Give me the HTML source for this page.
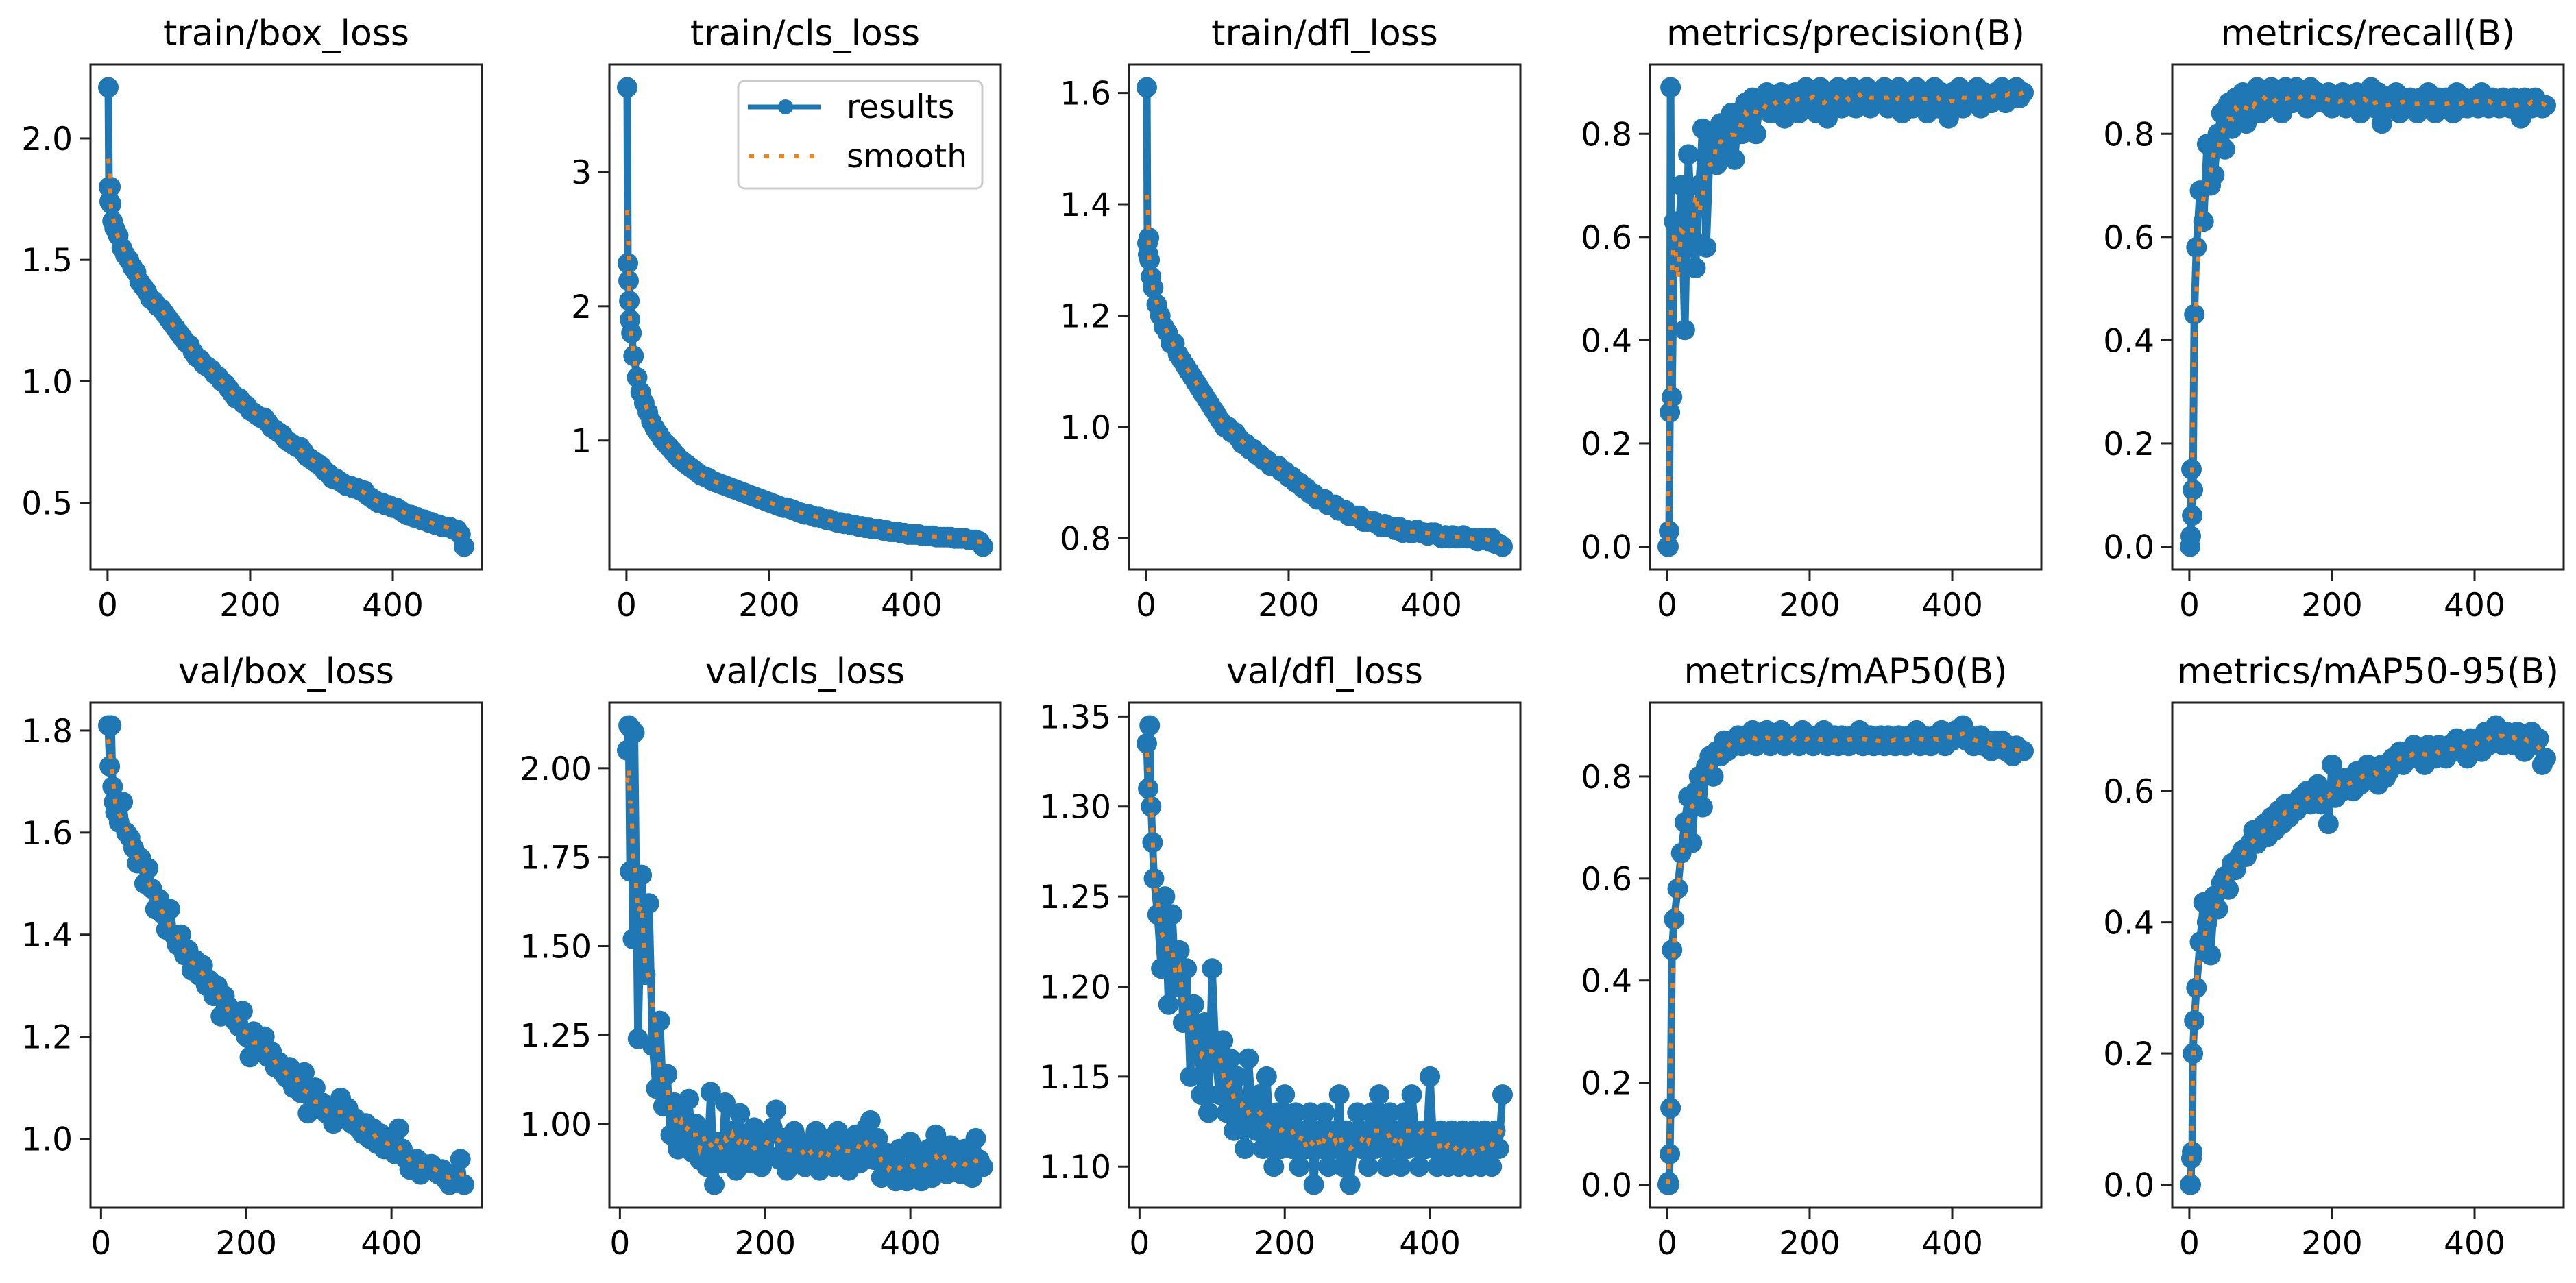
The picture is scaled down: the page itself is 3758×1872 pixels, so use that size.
<!DOCTYPE html>
<html><head><meta charset="utf-8"><title>Training results</title>
<style>html,body{margin:0;padding:0;background:#fff}svg{display:block}text{font-family:"DejaVu Sans","Liberation Sans",sans-serif;fill:#000}</style>
</head><body>
<svg id="fig" width="3758" height="1872" viewBox="0 0 3758 1872" xmlns="http://www.w3.org/2000/svg"></svg>
<script>
const E=[1,2,3,4,5,7,10,15,20,25,30,35,40,45,50,55,60,65,70,75,80,85,90,95,100,105,110,115,120,125,130,135,140,145,150,155,160,165,170,175,180,185,190,195,200,205,210,215,220,225,230,235,240,245,250,255,260,265,270,275,280,285,290,295,300,305,310,315,320,325,330,335,340,345,350,355,360,365,370,375,380,385,390,395,400,405,410,415,420,425,430,435,440,445,450,455,460,465,470,475,480,485,490,495,500];
const V=[10,12,14,16,18,20,25,30,35,40,45,50,55,60,65,70,75,80,85,90,95,100,105,110,115,120,125,130,135,140,145,150,155,160,165,170,175,180,185,190,195,200,205,210,215,220,225,230,235,240,245,250,255,260,265,270,275,280,285,290,295,300,305,310,315,320,325,330,335,340,345,350,355,360,365,370,375,380,385,390,395,400,405,410,415,420,425,430,435,440,445,450,455,460,465,470,475,480,485,490,495,500];

const trainBox=[2.21,1.80,1.74,1.80,1.73,1.66,1.63,1.60,1.55,1.52,1.50,1.47,1.45,1.41,1.39,1.37,1.34,1.33,1.31,1.30,1.28,1.26,1.24,1.22,1.20,
1.18,1.16,1.15,1.12,1.10,1.09,1.07,1.06,1.05,1.03,1.02,1.00,0.99,0.97,0.95,0.93,0.93,0.91,0.90,0.88,
0.87,0.86,0.85,0.85,0.83,0.81,0.80,0.79,0.78,0.76,0.75,0.74,0.73,0.73,0.71,0.69,0.68,0.67,0.66,0.65,
0.63,0.62,0.60,0.60,0.59,0.58,0.57,0.57,0.56,0.56,0.55,0.55,0.53,0.52,0.51,0.50,0.50,0.49,0.49,0.48,
0.48,0.47,0.46,0.45,0.45,0.44,0.44,0.43,0.43,0.42,0.42,0.41,0.41,0.40,0.40,0.40,0.39,0.39,0.37,0.32];
const trainCls=[3.63,2.32,2.19,2.04,1.90,1.80,1.63,1.47,1.36,1.28,1.21,1.14,1.09,1.05,1.01,0.98,0.95,0.92,0.89,0.86,0.84,0.82,0.80,0.78,0.76,
0.74,0.73,0.72,0.70,0.69,0.68,0.67,0.66,0.65,0.64,0.63,0.62,0.61,0.60,0.59,0.58,0.57,0.56,0.55,0.54,
0.53,0.52,0.51,0.50,0.50,0.49,0.48,0.47,0.46,0.45,0.45,0.44,0.43,0.43,0.42,0.41,0.41,0.40,0.39,0.39,
0.38,0.38,0.37,0.37,0.36,0.36,0.35,0.35,0.34,0.34,0.34,0.33,0.33,0.32,0.32,0.32,0.31,0.31,0.30,0.30,
0.30,0.30,0.29,0.29,0.29,0.29,0.28,0.28,0.28,0.28,0.28,0.27,0.27,0.27,0.27,0.26,0.26,0.26,0.25,0.21];
const trainDfl=[1.61,1.33,1.31,1.34,1.30,1.27,1.25,1.22,1.20,1.18,1.17,1.15,1.15,1.13,1.12,1.11,1.10,1.09,1.08,1.07,1.06,1.05,1.04,1.03,1.02,
1.01,1.00,1.00,0.99,0.99,0.98,0.97,0.97,0.96,0.96,0.95,0.95,0.94,0.94,0.93,0.93,0.93,0.92,0.92,0.91,
0.91,0.90,0.90,0.89,0.89,0.88,0.88,0.87,0.87,0.87,0.86,0.86,0.86,0.85,0.85,0.85,0.84,0.84,0.84,0.84,
0.83,0.83,0.83,0.83,0.825,0.82,0.825,0.82,0.82,0.815,0.82,0.81,0.815,0.81,0.81,0.815,0.81,0.81,0.805,0.81,
0.81,0.805,0.80,0.805,0.80,0.805,0.80,0.80,0.805,0.80,0.80,0.80,0.795,0.80,0.80,0.795,0.80,0.79,0.79,0.785];
const precision=[0.00,0.00,0.03,0.26,0.89,0.29,0.63,0.55,0.70,0.42,0.76,0.60,0.54,0.70,0.81,0.58,0.77,0.80,0.74,0.82,0.80,0.76,0.84,0.75,0.84,
0.80,0.86,0.83,0.87,0.80,0.86,0.85,0.88,0.84,0.87,0.85,0.88,0.83,0.87,0.86,0.88,0.84,0.87,0.89,0.86,
0.88,0.84,0.89,0.86,0.83,0.88,0.87,0.89,0.85,0.88,0.86,0.89,0.85,0.88,0.87,0.89,0.85,0.88,0.86,0.87,
0.89,0.85,0.88,0.86,0.89,0.84,0.88,0.87,0.85,0.89,0.86,0.88,0.84,0.87,0.89,0.85,0.88,0.86,0.83,0.88,
0.86,0.89,0.85,0.88,0.87,0.86,0.89,0.85,0.88,0.87,0.86,0.88,0.87,0.89,0.86,0.88,0.87,0.89,0.87,0.88];
const recall=[0.00,0.02,0.15,0.06,0.11,0.45,0.58,0.69,0.63,0.78,0.70,0.72,0.80,0.84,0.77,0.86,0.81,0.87,0.83,0.88,0.82,0.87,0.85,0.89,0.84,
0.88,0.85,0.89,0.86,0.88,0.84,0.89,0.87,0.86,0.89,0.87,0.88,0.85,0.89,0.86,0.88,0.87,0.86,0.88,0.85,
0.87,0.86,0.88,0.85,0.87,0.86,0.88,0.84,0.87,0.86,0.89,0.85,0.88,0.82,0.87,0.85,0.86,0.88,0.84,0.87,
0.85,0.87,0.86,0.84,0.87,0.85,0.88,0.86,0.84,0.87,0.85,0.87,0.86,0.84,0.88,0.85,0.87,0.85,0.86,0.87,
0.85,0.88,0.86,0.85,0.87,0.86,0.85,0.87,0.86,0.85,0.87,0.86,0.83,0.87,0.86,0.85,0.87,0.86,0.85,0.855];
const valBox=[1.81,1.73,1.81,1.69,1.66,1.64,1.62,1.66,1.60,1.59,1.57,1.54,1.55,1.50,1.53,1.49,1.45,1.47,1.44,1.41,1.45,1.40,
1.38,1.40,1.36,1.37,1.33,1.35,1.32,1.34,1.30,1.31,1.28,1.30,1.24,1.28,1.26,1.25,1.23,1.22,1.25,1.20,
1.16,1.21,1.19,1.18,1.20,1.16,1.17,1.14,1.15,1.13,1.12,1.14,1.10,1.12,1.09,1.13,1.05,1.08,1.10,1.06,
1.07,1.05,1.06,1.03,1.04,1.08,1.05,1.06,1.03,1.04,1.02,1.01,1.03,1.00,1.02,0.99,1.01,0.98,0.99,1.00,
0.97,1.02,0.98,0.96,0.94,0.95,0.96,0.93,0.95,0.94,0.95,0.94,0.93,0.94,0.92,0.91,0.93,0.92,0.96,0.91];
const valCls=[2.05,2.12,1.71,2.11,1.52,2.10,1.24,1.70,1.42,1.62,1.22,1.10,1.29,1.05,1.14,0.97,1.06,0.93,1.02,0.96,1.07,0.92,
1.00,0.90,0.96,0.88,1.09,0.83,0.95,0.89,1.06,0.91,0.98,0.87,1.03,0.92,0.96,0.89,0.99,0.94,0.88,0.97,
0.91,0.99,1.04,0.90,0.96,0.87,0.93,0.98,0.89,0.95,0.88,0.94,0.90,0.98,0.87,0.93,0.89,0.96,0.88,0.98,
0.90,0.95,0.87,0.93,0.97,0.89,0.94,0.99,1.01,0.90,0.96,0.85,0.92,0.86,0.90,0.84,0.93,0.87,0.84,0.95,
0.86,0.91,0.84,0.89,0.93,0.85,0.97,0.88,0.92,0.86,0.94,0.87,0.90,0.86,0.93,0.89,0.85,0.96,0.90,0.88];
const valDfl=[1.335,1.31,1.345,1.30,1.28,1.26,1.24,1.21,1.25,1.19,1.24,1.20,1.22,1.18,1.21,1.15,1.19,1.17,1.14,1.18,1.13,1.21,
1.16,1.14,1.17,1.13,1.16,1.12,1.15,1.13,1.11,1.16,1.13,1.12,1.14,1.11,1.15,1.12,1.10,1.13,1.11,1.14,
1.12,1.11,1.13,1.10,1.12,1.11,1.13,1.09,1.12,1.11,1.13,1.10,1.12,1.11,1.14,1.10,1.12,1.09,1.11,1.13,
1.11,1.12,1.10,1.13,1.11,1.14,1.12,1.10,1.13,1.11,1.12,1.10,1.13,1.11,1.14,1.12,1.10,1.12,1.11,1.15,
1.11,1.10,1.12,1.11,1.10,1.12,1.11,1.10,1.12,1.11,1.10,1.12,1.11,1.10,1.12,1.11,1.10,1.12,1.11,1.14];
const map50=[0.00,0.005,0.00,0.06,0.15,0.46,0.52,0.58,0.65,0.71,0.76,0.67,0.77,0.80,0.74,0.82,0.84,0.80,0.85,0.84,0.87,0.85,0.87,0.86,0.88,
0.86,0.88,0.87,0.89,0.86,0.88,0.87,0.89,0.86,0.88,0.87,0.89,0.86,0.88,0.87,0.88,0.86,0.89,0.87,0.88,
0.86,0.88,0.87,0.89,0.86,0.87,0.88,0.86,0.88,0.87,0.86,0.88,0.87,0.89,0.86,0.87,0.88,0.86,0.87,0.88,
0.86,0.88,0.87,0.86,0.88,0.87,0.86,0.88,0.87,0.89,0.86,0.88,0.87,0.86,0.88,0.87,0.89,0.86,0.88,0.87,
0.89,0.88,0.90,0.87,0.88,0.86,0.87,0.88,0.86,0.87,0.85,0.87,0.86,0.87,0.85,0.86,0.84,0.86,0.85,0.85];
const map5095=[0.00,0.00,0.04,0.05,0.20,0.25,0.30,0.37,0.43,0.40,0.35,0.44,0.42,0.46,0.47,0.45,0.49,0.48,0.50,0.51,0.50,0.52,0.54,0.52,0.54,
0.55,0.53,0.56,0.54,0.57,0.55,0.58,0.56,0.58,0.57,0.59,0.58,0.60,0.58,0.59,0.61,0.58,0.60,0.55,0.64,
0.59,0.61,0.60,0.62,0.61,0.60,0.63,0.61,0.62,0.64,0.62,0.63,0.61,0.64,0.62,0.63,0.65,0.64,0.66,0.64,
0.66,0.65,0.67,0.65,0.66,0.64,0.67,0.66,0.65,0.67,0.66,0.65,0.67,0.66,0.68,0.66,0.67,0.65,0.68,0.67,
0.68,0.66,0.69,0.67,0.68,0.70,0.68,0.67,0.69,0.68,0.67,0.69,0.68,0.66,0.68,0.69,0.67,0.68,0.64,0.65];

const titles=["train/box_loss","train/cls_loss","train/dfl_loss","metrics/precision(B)","metrics/recall(B)","val/box_loss","val/cls_loss","val/dfl_loss","metrics/mAP50(B)","metrics/mAP50-95(B)"];
const yTicks=[["0.5","1.0","1.5","2.0"],["1","2","3"],["0.8","1.0","1.2","1.4","1.6"],["0.0","0.2","0.4","0.6","0.8"],["0.0","0.2","0.4","0.6","0.8"],
["1.0","1.2","1.4","1.6","1.8"],["1.00","1.25","1.50","1.75","2.00"],["1.10","1.15","1.20","1.25","1.30","1.35"],["0.0","0.2","0.4","0.6","0.8"],["0.0","0.2","0.4","0.6"]];
const xTicks=["0","200","400"];

const NS="http://www.w3.org/2000/svg";
const svg=document.getElementById('fig');
const panels=[
 {x:E,y:trainBox},{x:E,y:trainCls},{x:E,y:trainDfl},{x:E,y:precision},{x:E,y:recall},
 {x:V,y:valBox},{x:V,y:valCls},{x:V,y:valDfl},{x:E,y:map50},{x:E,y:map5095}];
const colL=[132,889,1647,2407,3169], W=571, rowT=[94,1025], H=737;
function mk(tag,attrs,parent){const e=document.createElementNS(NS,tag);for(const k in attrs)e.setAttribute(k,attrs[k]);(parent||svg).appendChild(e);return e;}

panels.forEach((p,i)=>{
  const L=colL[i%5], T=rowT[Math.floor(i/5)], B=T+H, R=L+W;
  const g=mk('g',{});
  
  
  const xmin=Math.min(...p.x), xmax=Math.max(...p.x), ymin=Math.min(...p.y), ymax=Math.max(...p.y);
  const xs=xmax-xmin, ys=ymax-ymin;
  const x0=xmin-0.05*xs, x1=xmax+0.05*xs, y0=ymin-0.05*ys, y1=ymax+0.05*ys;
  const sx=v=>L+(v-x0)/(x1-x0)*W, sy=v=>B-(v-y0)/(y1-y0)*H;
  const cp=mk('clipPath',{id:'cp'+i},g); mk('rect',{x:L,y:T,width:W,height:H},cp);
  const t=mk('text',{x:L+W/2,y:T-28,'text-anchor':'middle','font-size':52},g); t.textContent=titles[i];
   
  const pts=p.x.map((xv,j)=>sx(xv).toFixed(1)+','+sy(p.y[j]).toFixed(1)).join(' ');
  const pl=mk('polyline',{points:pts,fill:'none',stroke:'#1f77b4','stroke-width':11,'stroke-linejoin':'round','clip-path':'url(#cp'+i+')'},g);
   
  const mg=mk('g',{fill:'#1f77b4','clip-path':'url(#cp'+i+')'},g);
   
  p.x.forEach((xv,j)=>{const c=mk('circle',{cx:sx(xv).toFixed(1),cy:sy(p.y[j]).toFixed(1),r:15},mg);
     });
  const sm=p.y.map((v,j)=>{let s=0,n=0;for(let k=j-2;k<=j+2;k++){if(k>=0&&k<p.y.length){s+=p.y[k];n++;}}return s/n;});
  const spts=p.x.map((xv,j)=>sx(xv).toFixed(1)+','+sy(sm[j]).toFixed(1)).join(' ');
  const sl=mk('polyline',{points:spts,fill:'none',stroke:'#ff7f0e','stroke-width':6,'stroke-dasharray':'7 15','clip-path':'url(#cp'+i+')'},g);
   
  const fr=mk('rect',{x:L,y:T,width:W,height:H,fill:'none',stroke:'#222','stroke-width':3},g);
   
  yTicks[i].forEach(lbl=>{const v=parseFloat(lbl),yy=sy(v);
    mk('line',{x1:L-16,x2:L,y1:yy,y2:yy,stroke:'#222','stroke-width':3},g);
    const tt=mk('text',{x:L-26,y:yy+17,'text-anchor':'end','font-size':47},g); tt.textContent=lbl;
     });
  xTicks.forEach(lbl=>{const v=parseFloat(lbl),xx=sx(v);
    mk('line',{x1:xx,x2:xx,y1:B,y2:B+16,stroke:'#222','stroke-width':3},g);
    const tt=mk('text',{x:xx,y:B+68,'text-anchor':'middle','font-size':47},g); tt.textContent=lbl;
     });
});
const lg=mk('g',{});
 
mk('rect',{x:1077,y:118,width:356,height:157,rx:9,fill:'#fff','fill-opacity':0.8,stroke:'#ccc','stroke-width':3},lg);
const le1=mk('g',{},lg);  
mk('line',{x1:1091,x2:1197,y1:156,y2:156,stroke:'#1f77b4','stroke-width':7},le1);
mk('circle',{cx:1146,cy:156,r:11,fill:'#1f77b4'},le1);
const lt1=mk('text',{x:1235,y:172,'font-size':47},le1); lt1.textContent='results';
const le2=mk('g',{},lg);  
mk('line',{x1:1093,x2:1197,y1:228,y2:228,stroke:'#ff7f0e','stroke-width':6,'stroke-dasharray':'7 15'},le2);
const lt2=mk('text',{x:1235,y:244,'font-size':47},le2); lt2.textContent='smooth';
</script>
</body></html>
